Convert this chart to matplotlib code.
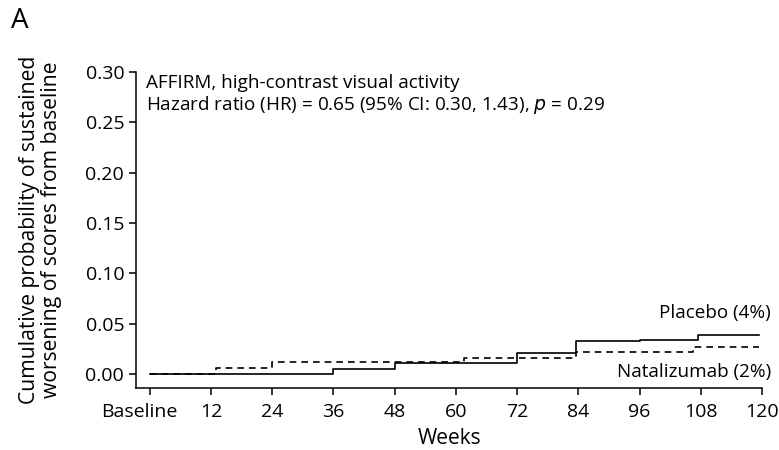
import matplotlib.pyplot as plt
import matplotlib.transforms as mtransforms

plt.rcParams['font.family'] = ['Open Sans', 'DejaVu Sans']

# Kaplan-Meier style cumulative curves
placebo_weeks = [0, 36, 48, 72, 83.5, 96, 107.5, 119.5]
placebo_prob = [0, 0.0045, 0.011, 0.021, 0.0325, 0.034, 0.039, 0.039]
natal_weeks = [0, 13, 24, 61.5, 83.5, 106.5, 119.5]
natal_prob = [0, 0.0055, 0.012, 0.016, 0.022, 0.0266, 0.0266]

x_ticks = [0, 12, 24, 36, 48, 60, 72, 84, 96, 108, 120]
x_labels = ['Baseline'] + [str(t) for t in x_ticks[1:]]
y_ticks = [0.00, 0.05, 0.10, 0.15, 0.20, 0.25, 0.30]

fig = plt.figure(figsize=(7.79, 4.5), dpi=100)
ax = fig.add_axes([0.1746, 0.1378, 0.8036, 0.7022])

ax.step(placebo_weeks, placebo_prob, where='post', color='black', lw=1.2)
ax.step(natal_weeks, natal_prob, where='post', color='black', lw=1.2,
        linestyle=(0, (4, 3)))

ax.set_xlim(-2.7, 120)
ax.set_ylim(-0.014, 0.30)
ax.set_xticks(x_ticks)
ax.set_xticklabels(x_labels)
ax.set_yticks(y_ticks)
ax.set_yticklabels([f'{v:.2f}' for v in y_ticks])
ax.tick_params(labelsize=14, length=5, width=1.1)
ax.tick_params(axis='x', pad=6)

# "Baseline" sits a bit left of its tick
lbl = ax.get_xticklabels()[0]
lbl.set_transform(lbl.get_transform() + mtransforms.ScaledTranslation(-10 / 100, 0, fig.dpi_scale_trans))

for s in ['top', 'right']:
    ax.spines[s].set_visible(False)
for s in ['left', 'bottom']:
    ax.spines[s].set_linewidth(1.1)

ax.set_xlabel('Weeks', fontsize=15, labelpad=5)
ax.set_ylabel('Cumulative probability of sustained\nworsening of scores from baseline',
              fontsize=15.2, labelpad=17, linespacing=1.05)

ax.text(-0.7, 0.284, 'AFFIRM, high-contrast visual activity', fontsize=13.6, va='baseline')
ax.text(-0.7, 0.262, 'Hazard ratio (HR) = 0.65 (95% CI: 0.30, 1.43), $\\it{p}$ = 0.29',
        fontsize=13.6, va='baseline')
ax.text(121.8, 0.056, 'Placebo (4%)', fontsize=13.6, ha='right', va='baseline')
ax.text(121.8, -0.0035, 'Natalizumab (2%)', fontsize=13.6, ha='right', va='baseline')

fig.text(0.014, 0.985, 'A', fontsize=20, va='top')

fig.savefig('out.png', dpi=100)
